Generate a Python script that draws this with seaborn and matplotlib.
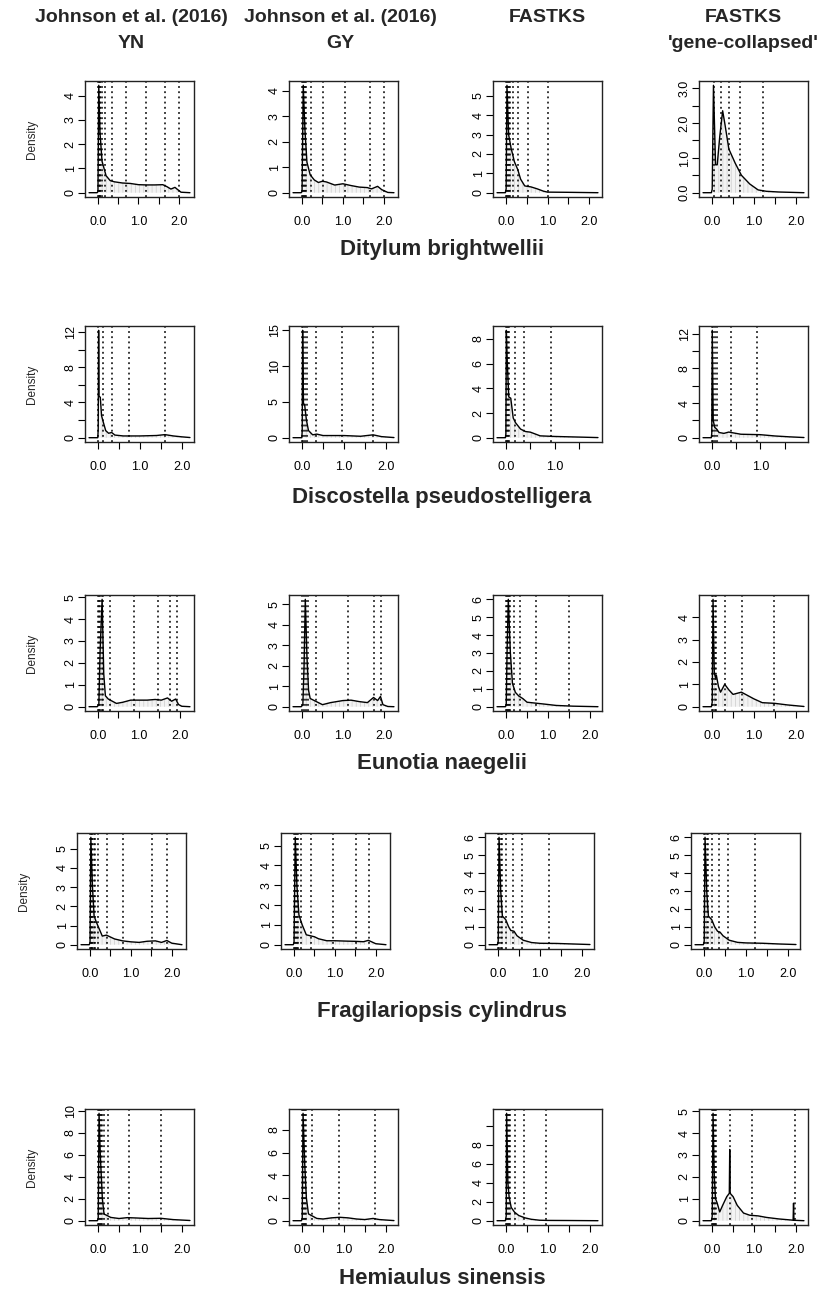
import matplotlib
matplotlib.use("Agg")
import matplotlib.pyplot as plt
import seaborn as sns
import pandas as pd
import numpy as np

sns.set_theme(style="ticks")
plt.rcParams['font.family'] = ['Liberation Sans', 'DejaVu Sans']
plt.rcParams['hatch.linewidth'] = 0.6

# column headers (two lines each) and species
col_line1 = ["Johnson et al. (2016)", "Johnson et al. (2016)", "FASTKS", "FASTKS"]
col_line2 = ["YN", "GY", "", "'gene-collapsed'"]
species = ["Ditylum brightwellii", "Discostella pseudostelligera", "Eunotia naegelii",
           "Fragilariopsis cylindrus", "Hemiaulus sinensis"]

# density curves: (Ks, density)
dit_yn = [(-0.22, 0), (-0.02, 0), (0.0, 0.05), (0.02, 4.42), (0.05, 2.5), (0.1, 1.3), (0.2, 0.7),
          (0.3, 0.5), (0.4, 0.45), (0.6, 0.4), (0.8, 0.38), (1.0, 0.33), (1.2, 0.32), (1.4, 0.32),
          (1.6, 0.33), (1.7, 0.25), (1.8, 0.15), (1.9, 0.22), (1.95, 0.15), (2.05, 0.02), (2.27, 0)]
dit_gy = [(-0.22, 0), (-0.02, 0), (0.0, 0.05), (0.03, 4.21), (0.07, 2.5), (0.12, 1.2), (0.2, 0.7),
          (0.3, 0.5), (0.4, 0.4), (0.5, 0.45), (0.6, 0.42), (0.8, 0.3), (1.0, 0.35), (1.2, 0.28),
          (1.4, 0.22), (1.6, 0.2), (1.7, 0.15), (1.85, 0.25), (1.95, 0.12), (2.1, 0.01), (2.25, 0)]
dit_fk = [(-0.22, 0), (-0.02, 0), (0.0, 0.2), (0.02, 5.55), (0.06, 3.0), (0.12, 2.3), (0.2, 1.6),
          (0.28, 1.2), (0.35, 0.7), (0.45, 0.35), (0.6, 0.3), (0.75, 0.2), (0.9, 0.08), (1.0, 0.03),
          (1.5, 0.02), (2.22, 0)]
dit_gc = [(-0.22, 0), (-0.02, 0), (0.0, 0.1), (0.03, 3.08), (0.08, 0.8), (0.12, 0.8), (0.18, 1.6),
          (0.25, 2.35), (0.3, 2.0), (0.4, 1.25), (0.55, 0.85), (0.7, 0.5), (0.9, 0.25), (1.1, 0.08),
          (1.3, 0.04), (1.6, 0.02), (2.2, 0)]

dis_yn = [(-0.22, 0), (-0.01, 0), (0.0, 1.0), (0.01, 12.2), (0.02, 4.7), (0.05, 4.6), (0.08, 2.5),
          (0.12, 1.8), (0.18, 0.8), (0.25, 0.5), (0.32, 0.6), (0.4, 0.3), (0.6, 0.2), (1.0, 0.2),
          (1.4, 0.25), (1.6, 0.35), (1.8, 0.2), (2.0, 0.1), (2.2, 0.02)]
dis_gy = [(-0.22, 0), (-0.01, 0), (0.0, 1.0), (0.01, 14.95), (0.03, 4.8), (0.06, 4.5), (0.1, 2.5),
          (0.15, 1.0), (0.25, 0.4), (0.35, 0.5), (0.5, 0.3), (1.0, 0.3), (1.4, 0.2), (1.7, 0.4),
          (1.9, 0.15), (2.2, 0.02)]
dis_fk = [(-0.18, 0), (-0.01, 0), (0.0, 0.3), (0.01, 8.7), (0.03, 6.0), (0.06, 3.3), (0.1, 3.2),
          (0.15, 1.6), (0.2, 1.2), (0.3, 0.7), (0.4, 0.5), (0.5, 0.45), (0.6, 0.3), (0.7, 0.15),
          (1.0, 0.1), (1.5, 0.05), (1.88, 0.01)]
dis_gc = [(-0.18, 0), (-0.01, 0), (0.0, 0.5), (0.01, 12.4), (0.03, 2.0), (0.06, 1.2), (0.1, 1.0),
          (0.15, 0.6), (0.25, 0.5), (0.35, 0.65), (0.45, 0.55), (0.6, 0.4), (1.0, 0.35), (1.3, 0.2),
          (1.6, 0.1), (1.9, 0.02)]

eun_yn = [(-0.22, 0), (-0.02, 0), (0.02, 0.1), (0.05, 2.5), (0.1, 4.9), (0.14, 1.5), (0.18, 0.5),
          (0.25, 0.35), (0.35, 0.25), (0.45, 0.15), (0.6, 0.2), (0.8, 0.3), (1.0, 0.3), (1.2, 0.3),
          (1.4, 0.33), (1.55, 0.3), (1.7, 0.4), (1.8, 0.25), (1.9, 0.35), (1.97, 0.1), (2.05, 0.02),
          (2.25, 0)]
eun_gy = [(-0.22, 0), (-0.02, 0), (0.02, 0.1), (0.05, 2.0), (0.08, 5.25), (0.12, 2.5), (0.16, 0.8),
          (0.2, 0.4), (0.3, 0.3), (0.5, 0.1), (0.7, 0.2), (1.0, 0.3), (1.2, 0.32), (1.4, 0.25),
          (1.6, 0.2), (1.75, 0.45), (1.85, 0.3), (1.92, 0.5), (1.98, 0.1), (2.1, 0.01), (2.25, 0)]
eun_fk = [(-0.22, 0), (-0.02, 0), (0.0, 0.1), (0.02, 3.0), (0.05, 6.0), (0.1, 3.0), (0.15, 1.3),
          (0.22, 0.8), (0.3, 0.6), (0.4, 0.45), (0.5, 0.25), (0.7, 0.2), (0.9, 0.15), (1.2, 0.07),
          (1.6, 0.03), (2.2, 0)]
eun_gc = [(-0.22, 0), (-0.02, 0), (0.0, 0.2), (0.02, 4.8), (0.05, 1.5), (0.08, 1.3), (0.1, 1.4),
          (0.15, 0.9), (0.2, 0.65), (0.3, 1.0), (0.4, 0.75), (0.5, 0.55), (0.6, 0.6), (0.7, 0.65),
          (0.8, 0.55), (1.0, 0.35), (1.2, 0.18), (1.5, 0.15), (1.8, 0.08), (2.2, 0.01)]

fra_yn = [(-0.22, 0), (-0.02, 0), (0.0, 0.1), (0.02, 5.6), (0.06, 3.0), (0.1, 1.5), (0.15, 1.2),
          (0.25, 0.7), (0.3, 0.45), (0.4, 0.5), (0.5, 0.4), (0.6, 0.3), (0.8, 0.2), (1.0, 0.15),
          (1.2, 0.12), (1.4, 0.18), (1.6, 0.2), (1.75, 0.12), (1.88, 0.22), (2.0, 0.08), (2.25, 0)]
fra_gy = [(-0.22, 0), (-0.02, 0), (0.0, 0.1), (0.03, 5.42), (0.07, 3.0), (0.12, 1.5), (0.2, 1.0),
          (0.3, 0.5), (0.4, 0.45), (0.5, 0.4), (0.6, 0.3), (0.8, 0.2), (1.0, 0.2), (1.3, 0.18),
          (1.5, 0.17), (1.7, 0.15), (1.82, 0.22), (2.0, 0.05), (2.25, 0)]
fra_fk = [(-0.22, 0), (-0.02, 0), (0.0, 0.2), (0.02, 6.0), (0.06, 3.0), (0.1, 1.6), (0.18, 1.4),
          (0.25, 1.0), (0.3, 0.8), (0.38, 0.75), (0.45, 0.5), (0.6, 0.25), (0.8, 0.12), (1.0, 0.08),
          (1.4, 0.07), (1.8, 0.04), (2.2, 0.01)]
fra_gc = [(-0.22, 0), (-0.02, 0), (0.0, 0.2), (0.02, 6.0), (0.06, 3.0), (0.1, 1.6), (0.18, 1.4),
          (0.25, 1.0), (0.32, 0.75), (0.38, 0.7), (0.45, 0.5), (0.6, 0.25), (0.8, 0.13), (1.0, 0.1),
          (1.4, 0.08), (1.8, 0.04), (2.2, 0.01)]

hem_yn = [(-0.22, 0), (-0.02, 0), (0.0, 0.2), (0.02, 9.8), (0.05, 6.0), (0.1, 2.0), (0.14, 0.6),
          (0.2, 0.5), (0.3, 0.3), (0.5, 0.2), (0.7, 0.28), (0.9, 0.25), (1.2, 0.2), (1.5, 0.22),
          (1.8, 0.1), (2.2, 0.02)]
hem_gy = [(-0.22, 0), (-0.02, 0), (0.0, 0.2), (0.02, 9.46), (0.06, 5.0), (0.1, 2.0), (0.15, 0.6),
          (0.25, 0.4), (0.35, 0.2), (0.5, 0.15), (0.7, 0.25), (0.9, 0.3), (1.1, 0.25), (1.3, 0.15),
          (1.5, 0.1), (1.7, 0.2), (1.85, 0.1), (2.2, 0.01)]
hem_fk = [(-0.22, 0), (-0.02, 0), (0.0, 0.5), (0.01, 11.35), (0.04, 4.0), (0.07, 2.5), (0.12, 1.4),
          (0.2, 0.9), (0.3, 0.55), (0.45, 0.3), (0.6, 0.15), (0.8, 0.05), (1.0, 0.03), (1.5, 0.02),
          (2.2, 0)]
hem_gc = [(-0.22, 0), (-0.02, 0), (0.0, 0.2), (0.02, 4.9), (0.05, 2.0), (0.08, 1.0), (0.12, 0.8),
          (0.18, 0.4), (0.25, 0.7), (0.35, 1.1), (0.41, 1.25), (0.42, 3.25), (0.43, 1.25), (0.5, 1.1),
          (0.6, 0.7), (0.75, 0.35), (0.9, 0.25), (1.1, 0.22), (1.3, 0.15), (1.6, 0.08), (1.9, 0.03),
          (1.94, 0.02), (1.95, 0.8), (1.96, 0.02), (2.2, 0)]

# dotted vertical lines (peak positions)
dit_yn_v = [0.0, 0.02, 0.04, 0.06, 0.09, 0.17, 0.35, 0.68, 1.18, 1.65, 2.0]
dit_gy_v = [0.0, 0.02, 0.04, 0.07, 0.1, 0.23, 0.51, 1.06, 1.67, 2.0]
dit_fk_v = [0.0, 0.02, 0.04, 0.07, 0.1, 0.16, 0.28, 0.52, 1.0]
dit_gc_v = [0.04, 0.22, 0.4, 0.66, 1.22]
dis_yn_v = [0.0, 0.12, 0.32, 0.75, 1.6]
dis_gy_v = [0.0, 0.03, 0.06, 0.12, 0.34, 0.96, 1.69]
dis_fk_v = [0.0, 0.02, 0.04, 0.06, 0.19, 0.38, 0.92]
dis_gc_v = [0.0, 0.03, 0.06, 0.11, 0.39, 0.93]
eun_yn_v = [0.0, 0.03, 0.06, 0.09, 0.12, 0.3, 0.88, 1.46, 1.76, 1.94]
eun_gy_v = [0.0, 0.05, 0.09, 0.14, 0.34, 1.12, 1.77, 1.94]
eun_fk_v = [0.0, 0.02, 0.04, 0.07, 0.1, 0.18, 0.33, 0.71, 1.51]
eun_gc_v = [0.0, 0.03, 0.06, 0.08, 0.3, 0.72, 1.48]
fra_yn_v = [0.0, 0.02, 0.04, 0.06, 0.09, 0.12, 0.19, 0.41, 0.81, 1.51, 1.88]
fra_gy_v = [0.0, 0.02, 0.05, 0.08, 0.1, 0.18, 0.42, 0.96, 1.52, 1.84]
fra_fk_v = [0.0, 0.03, 0.06, 0.08, 0.18, 0.36, 0.58, 1.22]
fra_gc_v = [0.0, 0.03, 0.06, 0.09, 0.19, 0.35, 0.58, 1.22]
hem_yn_v = [0.0, 0.02, 0.04, 0.07, 0.1, 0.14, 0.24, 0.75, 1.51]
hem_gy_v = [0.0, 0.02, 0.04, 0.06, 0.08, 0.24, 0.89, 1.75]
hem_fk_v = [0.0, 0.02, 0.04, 0.06, 0.08, 0.22, 0.42, 0.95]
hem_gc_v = [0.0, 0.02, 0.04, 0.06, 0.08, 0.42, 0.96, 1.98]

# y tick step / label step per panel
ytick_step = [[1, 1, 1, 0.5], [2, 5, 2, 2], [1, 1, 1, 1], [1, 1, 1, 1], [2, 2, 2, 1]]
ylabel_step = [[1, 1, 1, 1.0], [4, 5, 2, 4], [1, 1, 1, 1], [1, 1, 1, 1], [2, 2, 2, 1]]

curves = [[dit_yn, dit_gy, dit_fk, dit_gc], [dis_yn, dis_gy, dis_fk, dis_gc],
          [eun_yn, eun_gy, eun_fk, eun_gc], [fra_yn, fra_gy, fra_fk, fra_gc],
          [hem_yn, hem_gy, hem_fk, hem_gc]]
vlines = [[dit_yn_v, dit_gy_v, dit_fk_v, dit_gc_v], [dis_yn_v, dis_gy_v, dis_fk_v, dis_gc_v],
          [eun_yn_v, eun_gy_v, eun_fk_v, eun_gc_v], [fra_yn_v, fra_gy_v, fra_fk_v, fra_gc_v],
          [hem_yn_v, hem_gy_v, hem_fk_v, hem_gc_v]]

W, H = 821, 1296
fig = plt.figure(figsize=(W / 100, H / 100), dpi=100)
fig.patch.set_facecolor('white')

col_left = [85, 289, 493, 699]
row_top = [81, 326, 595, 833, 1109]
row_shift = [0, 0, 0, -8, 0]
box_w, box_h = 109, 116
title_x = [131, 340, 547, 743]
species_y = [249, 497, 764, 1012, 1278]


def fx(px):
    return px / W


def fy(py):
    return 1 - py / H


for r in range(5):
    for c in range(4):
        left = col_left[c] + row_shift[r]
        top = row_top[r]
        ax = fig.add_axes([fx(left), fy(top + box_h), box_w / W, box_h / H])
        ax.set_facecolor('white')
        df = pd.DataFrame(curves[r][c], columns=['ks', 'density'])
        ymax = df['density'].max()
        xr = df['ks'].max() - df['ks'].min()
        ax.fill_between(df['ks'], 0, df['density'], facecolor='#f3f3f3',
                        edgecolor='#d2d2d2', hatch='||||', linewidth=0)
        for v in vlines[r][c]:
            ax.axvline(v, color='black', lw=1.1, linestyle=(0, (1.2, 2.2)))
        sns.lineplot(data=df, x='ks', y='density', color='black', lw=1.0, ax=ax,
                     sort=False, estimator=None)
        ax.set_xlim(df['ks'].min() - 0.04 * xr, df['ks'].max() + 0.04 * xr)
        ax.set_ylim(-0.04 * ymax, 1.04 * ymax)

        xt = [t for t in np.arange(0, 2.01, 0.5) if t <= ax.get_xlim()[1]]
        ax.set_xticks(xt)
        ax.set_xticklabels([f"{t:.1f}" if abs(t - round(t)) < 1e-9 else "" for t in xt])

        step = ytick_step[r][c]
        lstep = ylabel_step[r][c]
        yt = list(np.arange(0, 1.04 * ymax + 1e-9, step))
        labs = []
        for t in yt:
            if abs(t / lstep - round(t / lstep)) < 1e-9 and not (r == 4 and c == 2 and t >= 10):
                labs.append(f"{t:.1f}" if step == 0.5 else f"{int(round(t))}")
            else:
                labs.append("")
        ax.set_yticks(yt)
        ax.set_yticklabels(labs, rotation=90, va='center')

        ax.tick_params(axis='both', direction='out', length=5, width=0.8, colors='black',
                       labelsize=9)
        ax.tick_params(axis='x', pad=9)
        ax.tick_params(axis='y', pad=1)
        for sp in ax.spines.values():
            sp.set_visible(True)
            sp.set_color('#222222')
            sp.set_linewidth(1.0)
        ax.set_xlabel('')
        ax.set_ylabel('')
        if c == 0:
            fig.text(fx(left - 53), fy(top + box_h / 2), 'Density', rotation=90,
                     ha='center', va='center', fontsize=8.5)

for c in range(4):
    fig.text(fx(title_x[c]), fy(17), col_line1[c], ha='center', va='center',
             fontsize=14, fontweight='bold')
    if col_line2[c]:
        fig.text(fx(title_x[c]), fy(43), col_line2[c], ha='center', va='center',
                 fontsize=14, fontweight='bold')

for r in range(5):
    fig.text(fx(442), fy(species_y[r]), species[r], ha='center', va='center',
             fontsize=16, fontweight='bold')

fig.savefig('out.png', dpi=100, facecolor='white')
